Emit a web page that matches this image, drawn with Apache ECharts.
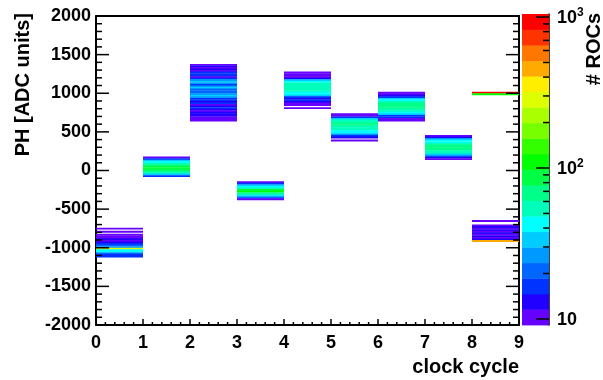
<!DOCTYPE html>
<html>
<head>
<meta charset="utf-8">
<script src="https://cdn.jsdelivr.net/npm/echarts@6/dist/echarts.min.js"></script>
<style>
  html, body { margin: 0; padding: 0; background: #fff; }
  #chart { width: 603px; height: 380px; }
</style>
</head>
<body>
<div id="chart"></div>
<script>
// bin width along PH (ADC units); each list is counts per bin from the top edge downwards
const binWidth = 20;
const clockCycles = [0, 1, 2, 3, 4, 5, 6, 7, 8, 8];
const blockTops = [-740, 180, 1380, -140, 1280, 740, 1020, 460, 1020, -640];

const col0 = [11, 0, 11, 0, 11, 11, 10, 12, 11, 13, 16, 22, 28, 260, 45, 40, 20, 17, 17];
const col1 = [11, 16, 30, 45, 58, 72, 80, 84, 80, 72, 55, 35, 18];
const col2 = [11, 13, 11, 14, 11, 16, 17, 15, 11, 17, 26, 30, 27, 17, 28, 31, 20, 22, 21,
              27, 30, 27, 17, 15, 12, 16, 11, 12, 16, 13, 11, 13, 14, 13, 10, 11, 10];
const col3 = [11, 16, 32, 45, 60, 90, 100, 62, 50, 32, 20, 11];
const col4 = [11, 11, 11, 11, 14, 30, 42, 50, 52, 55, 53, 55, 52, 45, 40, 32, 17, 12, 16, 13, 11, 11, 0, 11];
const col5 = [11, 11, 16, 34, 50, 55, 65, 70, 60, 55, 50, 43, 40, 25, 17, 14, 0, 11];
const col6 = [11, 11, 12, 16, 30, 45, 55, 62, 68, 65, 62, 58, 50, 45, 32, 17, 15, 11, 11];
const col7 = [11, 13, 25, 40, 45, 58, 62, 65, 66, 62, 58, 50, 35, 25, 12, 11];
const col8top = [900, 110];
const col8low = [11, 0, 0, 11, 12, 11, 13, 11, 12, 11, 13, 11, 12, 430];
const blocks = [col0, col1, col2, col3, col4, col5, col6, col7, col8top, col8low];

const palette = ['#6600ff', '#2200ff', '#0033ff', '#0066ff', '#0099ff', '#00ccff', '#00ffff',
                 '#00ffbb', '#00ff88', '#00ff44', '#00ff00', '#33ff00', '#77ff00', '#aaff00',
                 '#ddff00', '#ffee00', '#ffaa00', '#ff7700', '#ff3300', '#ff0000'];
const zLogMin = 0.96, zLogMax = 3.02;
const zStep = (zLogMax - zLogMin) / palette.length;

const heatData = [];
blocks.forEach((counts, b) => {
  counts.forEach((c, i) => {
    if (c > 0) heatData.push([clockCycles[b], blockTops[b] - i * binWidth, c]);
  });
});

const pieces = palette.map((c, k) => ({
  gte: k === 0 ? 0 : Math.pow(10, zLogMin + k * zStep),
  lt: Math.pow(10, zLogMin + (k + 1) * zStep),
  color: c
}));
const barData = palette.map((c, k) => [0, zLogMin + k * zStep, zLogMin + (k + 1) * zStep, k]);

// tick marks: [kind (0 = y, 1 = x), value, length in px]
const tickData = [];
for (let v = -2000; v <= 2000; v += 100) tickData.push([0, v, v % 500 === 0 ? 13 : 6]);
for (let i = 0; i <= 45; i++) tickData.push([1, i / 5, i % 5 === 0 ? 6 : 3]);
const zTickData = [[1, 13], [2, 13], [3, 13]];
[10, 100].forEach(d => { for (let m = 2; m <= 9; m++) zTickData.push([Math.log10(m * d), 6]); });

const font = 'Liberation Sans';
const black = '#000';
const labelStyle = { fontSize: 18, fontWeight: 'bold', color: black, fontFamily: font, formatter: v => String(v) };
const line = () => ({ show: true, onZero: false, lineStyle: { color: black, width: 2 } });
const tickStyle = { stroke: black, lineWidth: 1.5 };

const chart = echarts.init(document.getElementById('chart'));
chart.setOption({
  animation: false,
  grid: [
    { left: 96, top: 16, right: 84, bottom: 55 },
    { left: 522, top: 14, width: 27, height: 311 }
  ],
  xAxis: [
    {
      gridIndex: 0, type: 'value', min: 0, max: 9, interval: 1,
      axisLine: line(), axisTick: { show: false },
      axisLabel: Object.assign({ margin: 9 }, labelStyle),
      splitLine: { show: false }
    },
    { gridIndex: 1, type: 'value', min: 0, max: 1, show: false },
    {
      gridIndex: 0, type: 'value', min: 0, max: 9, interval: 1, position: 'top',
      axisLine: line(), axisTick: { show: false }, axisLabel: { show: false },
      splitLine: { show: false }
    }
  ],
  yAxis: [
    {
      gridIndex: 0, type: 'value', min: -2000, max: 2000, interval: 500,
      axisLine: line(), axisTick: { show: false },
      axisLabel: Object.assign({ margin: 5 }, labelStyle),
      splitLine: { show: false }
    },
    {
      gridIndex: 1, type: 'value', min: zLogMin, max: zLogMax, position: 'right',
      axisLine: { show: true, onZero: false, lineStyle: { color: black, width: 1.5 } },
      axisTick: { show: false },
      axisLabel: {
        margin: 8,
        customValues: [1, 2, 3],
        formatter: v => v === 1 ? '{b|10}' : '{b|10}{s|' + v + '}',
        rich: {
          b: { fontSize: 18, fontWeight: 'bold', color: black, fontFamily: font, lineHeight: 20, verticalAlign: 'bottom' },
          s: { fontSize: 12, fontWeight: 'bold', color: black, fontFamily: font, lineHeight: 12, verticalAlign: 'top' }
        }
      },
      splitLine: { show: false }
    },
    {
      gridIndex: 0, type: 'value', min: -2000, max: 2000, interval: 500, position: 'right',
      axisLine: line(), axisTick: { show: false }, axisLabel: { show: false },
      splitLine: { show: false }
    }
  ],
  visualMap: [{ type: 'piecewise', show: false, dimension: 2, seriesIndex: 0, pieces: pieces }],
  series: [
    {
      type: 'custom',
      xAxisIndex: 0,
      yAxisIndex: 0,
      encode: { x: 0, y: 1 },
      data: heatData,
      renderItem: (params, api) => {
        const x = api.value(0), yTop = api.value(1);
        const p1 = api.coord([x, yTop]);
        const p2 = api.coord([x + 1, yTop - binWidth]);
        return {
          type: 'rect',
          shape: { x: p1[0], y: p1[1], width: p2[0] - p1[0], height: p2[1] - p1[1] + 0.4 },
          style: { fill: api.visual('color') }
        };
      }
    },
    {
      type: 'custom',
      xAxisIndex: 1,
      yAxisIndex: 1,
      data: barData,
      renderItem: (params, api) => {
        const p1 = api.coord([0, api.value(2)]);
        const p2 = api.coord([1, api.value(1)]);
        return {
          type: 'rect',
          shape: { x: p1[0], y: p1[1], width: p2[0] - p1[0], height: p2[1] - p1[1] + 0.4 },
          style: { fill: palette[api.value(3)] }
        };
      }
    },
    {
      // axis tick marks of the main frame (left, right and bottom, pointing inwards)
      type: 'custom',
      xAxisIndex: 0,
      yAxisIndex: 0,
      z: 10,
      clip: false,
      silent: true,
      data: tickData,
      renderItem: (params, api) => {
        const kind = api.value(0), v = api.value(1), len = api.value(2);
        if (kind === 0) {
          const l = api.coord([0, v]), r = api.coord([9, v]);
          return {
            type: 'group',
            children: [
              { type: 'line', shape: { x1: l[0], y1: l[1], x2: l[0] + len, y2: l[1] }, style: tickStyle },
              { type: 'line', shape: { x1: r[0], y1: r[1], x2: r[0] - len, y2: r[1] }, style: tickStyle }
            ]
          };
        }
        const b = api.coord([v, -2000]);
        return { type: 'line', shape: { x1: b[0], y1: b[1], x2: b[0], y2: b[1] - len }, style: tickStyle };
      }
    },
    {
      // tick marks of the colour scale, drawn over the bar from its right edge
      type: 'custom',
      xAxisIndex: 1,
      yAxisIndex: 1,
      z: 10,
      clip: false,
      silent: true,
      data: zTickData,
      renderItem: (params, api) => {
        const p = api.coord([1, api.value(0)]);
        return { type: 'line', shape: { x1: p[0], y1: p[1], x2: p[0] - api.value(1), y2: p[1] }, style: tickStyle };
      }
    }
  ],
  graphic: [
    {
      type: 'text', x: 519, y: 367,
      style: { text: 'clock cycle', textAlign: 'right', textVerticalAlign: 'middle',
               fontSize: 20, fontWeight: 'bold', fontFamily: font, fill: black }
    },
    {
      type: 'text', x: 23, y: 13, rotation: Math.PI / 2,
      style: { text: 'PH [ADC units]', textAlign: 'right', textVerticalAlign: 'middle',
               fontSize: 20, fontWeight: 'bold', fontFamily: font, fill: black }
    },
    {
      type: 'text', x: 594, y: 13, rotation: Math.PI / 2,
      style: { text: '# ROCs', textAlign: 'right', textVerticalAlign: 'middle',
               fontSize: 20, fontWeight: 'bold', fontFamily: font, fill: black }
    }
  ]
});
</script>
</body>
</html>
